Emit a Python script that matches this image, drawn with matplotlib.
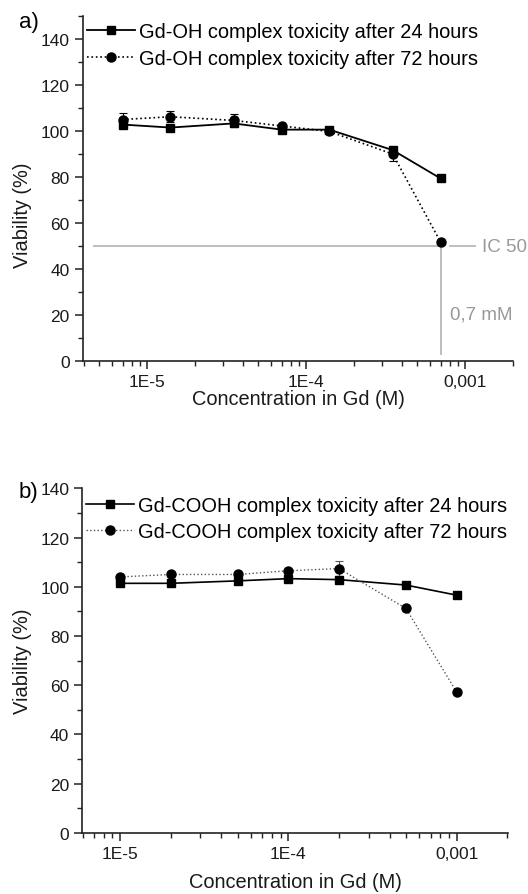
import matplotlib
matplotlib.use('Agg')
import matplotlib.pyplot as plt
from matplotlib.ticker import LogLocator, FixedLocator, MultipleLocator, NullFormatter
import numpy as np

plt.rcParams['font.family'] = ['Liberation Sans', 'DejaVu Sans']

# a) Gd-OH complex
conc_oh = [7e-6, 1.4e-5, 3.5e-5, 7e-5, 1.4e-4, 3.5e-4, 7e-4]
oh_24h = [102.8, 101.5, 103.3, 100.6, 100.6, 91.7, 79.4]
oh_72h = [105.0, 106.2, 104.6, 102.2, 99.8, 90.0, 51.8]
oh_72h_err = [3.0, 2.4, 3.0, 0.8, 0.8, 3.0, 0.8]
oh_24h_err = [0.8, 0.6, 0.6, 0.6, 0.6, 0.8, 0.5]

# b) Gd-COOH complex
conc_cooh = [1e-5, 2e-5, 5e-5, 1e-4, 2e-4, 5e-4, 1e-3]
cooh_24h = [101.4, 101.4, 102.4, 103.3, 102.9, 100.7, 96.6]
cooh_72h = [104.0, 105.0, 105.0, 106.5, 107.4, 91.2, 57.3]
cooh_72h_err = [0.6, 0.6, 0.6, 0.8, 3.0, 0.8, 0.6]

ic50_value = 50
ic50_conc = 7e-4

fig = plt.figure(figsize=(5.28, 8.95), dpi=100)
ax1 = fig.add_axes([0.157, 0.5955, 0.8146, 0.3855])
ax2 = fig.add_axes([0.156, 0.0682, 0.8067, 0.3851])

TFS = 12.5   # tick labels
LFS = 14.4   # axis labels / legend
GRAY = '#999999'


def style_axis(ax, xlim, ylim, xpad):
    ax.set_xscale('log')
    ax.set_xlim(*xlim)
    ax.set_ylim(*ylim)
    for s in ['top', 'right']:
        ax.spines[s].set_visible(False)
    for s in ['left', 'bottom']:
        ax.spines[s].set_linewidth(1.2)
        ax.spines[s].set_color('#222222')
    ax.xaxis.set_major_locator(FixedLocator([1e-5, 1e-4, 1e-3]))
    ax.set_xticklabels(['1E-5', '1E-4', '0,001'])
    ax.xaxis.set_minor_locator(LogLocator(base=10, subs=np.arange(2, 10), numticks=20))
    ax.xaxis.set_minor_formatter(NullFormatter())
    ax.yaxis.set_major_locator(FixedLocator([0, 20, 40, 60, 80, 100, 120, 140]))
    ax.yaxis.set_minor_locator(MultipleLocator(10))
    ax.tick_params(which='major', direction='out', length=6, width=1.1, labelsize=TFS,
                   color='#222222', labelcolor='#1a1a1a')
    ax.tick_params(which='minor', direction='out', length=3.5, width=1.0, color='#222222')
    ax.set_xlabel('Concentration in Gd (M)', fontsize=LFS, color='#1a1a1a', labelpad=xpad)
    ax.set_ylabel('Viability (%)', fontsize=LFS, color='#1a1a1a')


# panel a
style_axis(ax1, (3.94e-6, 2e-3), (0, 150), 0)
ax1.plot([4.6e-6, ic50_conc], [ic50_value, ic50_value], color='#b8b8b8', lw=1.3, zorder=1)
ax1.plot([ic50_conc, ic50_conc], [ic50_value, 3], color='#b8b8b8', lw=1.3, zorder=1)
ax1.plot([8.0e-4, 1.16e-3], [ic50_value, ic50_value], color='#b8b8b8', lw=1.3, clip_on=False)
ax1.text(1.28e-3, ic50_value, 'IC 50', color=GRAY, fontsize=13.5, va='center', ha='left', clip_on=False)
ax1.text(8.05e-4, 20.5, '0,7 mM', color=GRAY, fontsize=13.5, va='center', ha='left')

ax1.errorbar(conc_oh, oh_24h, yerr=oh_24h_err, fmt='none', ecolor='black',
             capsize=3, elinewidth=0.8, capthick=0.8, zorder=2)
ax1.errorbar(conc_oh, oh_72h, yerr=oh_72h_err, fmt='none', ecolor='black',
             capsize=3, elinewidth=0.8, capthick=0.8, zorder=2)
ax1.plot(conc_oh, oh_24h, color='black', lw=1.3, marker='s', ms=6,
         label='Gd-OH complex toxicity after 24 hours', zorder=3)
ax1.plot(conc_oh, oh_72h, color='black', lw=1.2, ls=':', marker='o', ms=6.5,
         label='Gd-OH complex toxicity after 72 hours', zorder=3)
ax1.legend(loc='upper left', bbox_to_anchor=(-0.01, 1.005), frameon=False, fontsize=LFS,
           handlelength=2.4, handletextpad=0.2, labelspacing=0.4, numpoints=1, borderaxespad=0)
ax1.yaxis.set_label_coords(-0.118, 0.424)
fig.text(0.036, 0.975, 'a)', fontsize=16, va='center', ha='left')

# panel b
style_axis(ax2, (5.97e-6, 2.03e-3), (0, 140), 8)
ax2.errorbar(conc_cooh, cooh_72h, yerr=cooh_72h_err, fmt='none', ecolor='#555555',
             capsize=3, elinewidth=0.8, capthick=0.8, zorder=2)
ax2.plot(conc_cooh, cooh_24h, color='black', lw=1.2, marker='s', ms=6,
         label='Gd-COOH complex toxicity after 24 hours', zorder=3)
ax2.plot(conc_cooh, cooh_72h, color='#555555', ls=':', lw=1.0, marker='o', ms=6.5,
         mfc='black', mec='black', label='Gd-COOH complex toxicity after 72 hours', zorder=3)
ax2.legend(loc='upper left', bbox_to_anchor=(-0.01, 1.0), frameon=False, fontsize=LFS,
           handlelength=2.4, handletextpad=0.2, labelspacing=0.35, numpoints=1, borderaxespad=0)
ax2.yaxis.set_label_coords(-0.118, 0.5)
fig.text(0.036, 0.45, 'b)', fontsize=16, va='center', ha='left')

fig.savefig('out.png', dpi=100)
